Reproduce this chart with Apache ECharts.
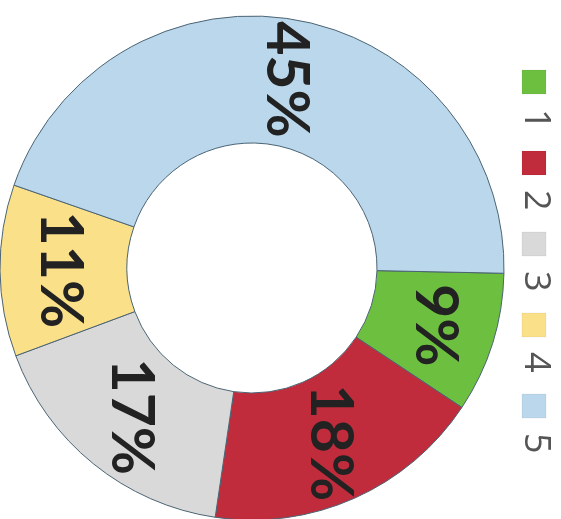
<!DOCTYPE html>
<html>
<head>
<meta charset="utf-8">
<script src="https://cdn.jsdelivr.net/npm/echarts@6/dist/echarts.min.js"></script>
<style>
html,body{margin:0;padding:0;background:#fff;}
#chart{width:561px;height:519px;}
</style>
</head>
<body>
<div id="chart"></div>
<script>
var categories = ['1', '2', '3', '4', '5'];
var values = [9, 18, 17, 11, 45];
var colors = ['#6dbf3f', '#c12c3c', '#d9d9d9', '#fbe08a', '#bad7ec'];

var chart = echarts.init(document.getElementById('chart'), null, {renderer: 'canvas'});

var data = categories.map(function (c, i) {
  return {name: c, value: values[i], itemStyle: {color: colors[i]}};
});

var legendGraphics = [];
categories.forEach(function (c, i) {
  var cy = 82 + i * 81;
  legendGraphics.push({
    type: 'rect',
    shape: {x: 522, y: cy - 12, width: 24, height: 24},
    style: {fill: colors[i], stroke: 'rgba(0,0,0,0.05)', lineWidth: 1}
  });
  legendGraphics.push({
    type: 'text',
    x: 535,
    y: cy + 27,
    rotation: -Math.PI / 2,
    style: {
      text: c,
      x: 0, y: 0,
      align: 'left',
      verticalAlign: 'middle',
      fill: '#555555',
      font: '36px "Open Sans", sans-serif'
    }
  });
});

chart.setOption({
  animation: false,
  backgroundColor: '#ffffff',
  graphic: legendGraphics,
  series: [{
    type: 'pie',
    center: [252, 268],
    radius: [125, 252],
    startAngle: -1.2,
    clockwise: true,
    avoidLabelOverlap: false,
    itemStyle: {borderColor: '#4b6474', borderWidth: 1},
    label: {
      show: true,
      position: 'inside',
      rotate: -90,
      formatter: '{c}%',
      color: '#222222',
      fontSize: 59,
      fontWeight: 'bold',
      fontFamily: 'Lato, sans-serif'
    },
    labelLine: {show: false},
    emphasis: {disabled: true},
    data: data
  }]
});
</script>
</body>
</html>
